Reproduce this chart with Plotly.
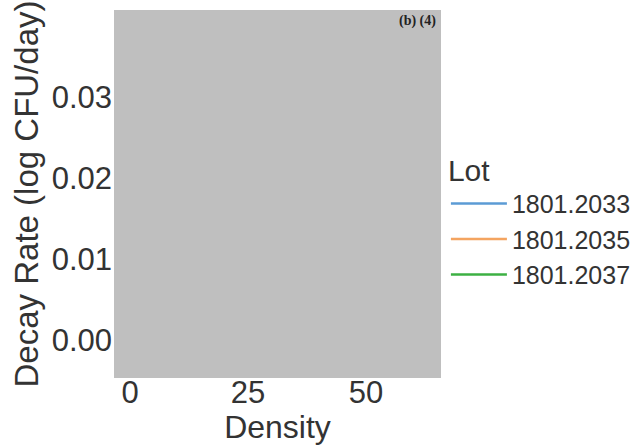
import plotly.graph_objects as go

lots = ["1801.2033", "1801.2035", "1801.2037"]
colors = ["#5b9bd5", "#f4a460", "#3cb043"]
# No visible data points in the reference panel (values redacted)
density = {lot: [] for lot in lots}
decay_rate = {lot: [] for lot in lots}

x_ticks = [0, 25, 50]
y_ticks = [0.00, 0.01, 0.02, 0.03]

fig = go.Figure()
for lot, c in zip(lots, colors):
    fig.add_trace(go.Scatter(
        x=density[lot] or [None], y=decay_rate[lot] or [None],
        mode="lines", name=lot, line=dict(color=c, width=2.5),
    ))

font = "Liberation Sans, Arial, sans-serif"
fig.update_layout(
    width=637, height=445,
    margin=dict(l=114, r=196, t=10, b=67, autoexpand=False),
    paper_bgcolor="white", plot_bgcolor="#bfbfbf",
    font=dict(family=font, color="#333333"),
    xaxis=dict(range=[-3.4, 65.9], tickvals=x_ticks, ticktext=[str(v) for v in x_ticks],
               showgrid=False, zeroline=False, ticks="", showline=False, ticklabelstandoff=-7,
               tickfont=dict(size=31), title=dict(text="Density", font=dict(size=32), standoff=0)),
    yaxis=dict(range=[-0.0047, 0.0407], tickvals=y_ticks, ticktext=[f"{v:.2f}" for v in y_ticks],
               showgrid=False, zeroline=False, ticks="", showline=False, ticklabelstandoff=1,
               tickfont=dict(size=31), title=dict(text="Decay Rate (log CFU/day)", font=dict(size=33), standoff=3)),
    legend=dict(title=dict(text="Lot", font=dict(size=30)), font=dict(size=25),
                x=1.015, xanchor="left", y=0.642, yanchor="top", itemwidth=56,
                bgcolor="rgba(0,0,0,0)"),
    annotations=[dict(text="<b>(b) (4)</b>", x=1, y=1, xref="paper", yref="paper",
                      xanchor="right", yanchor="top", showarrow=False, xshift=-3, yshift=-1,
                      font=dict(family="Liberation Serif, Times New Roman, serif", size=14, color="#222222"))],
)
fig.write_html("out.html", config={"displayModeBar": False},
               post_script="document.body.style.margin='0';")
